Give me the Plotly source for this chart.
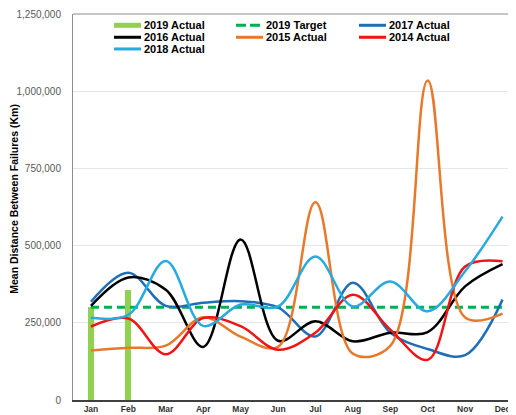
import plotly.graph_objects as go

months = ["Jan", "Feb", "Mar", "Apr", "May", "Jun", "Jul", "Aug", "Sep", "Oct", "Nov", "Dec"]

actual_2019 = [300000, 357000]
target_2019 = [300000] * 12
actual_2017 = [318000, 412000, 305000, 315000, 320000, 300000, 206000, 380000, 218000, 165000, 145000, 325000]
actual_2016 = [305000, 397000, 357000, 172000, 520000, 192000, 255000, 190000, 218000, 220000, 368000, 440000]
actual_2015 = [160000, 169000, 176000, 268000, 205000, 172000, 640000, 150000, 175000, 1035000, 267000, 280000]
actual_2014 = [238000, 264000, 148000, 265000, 239000, 163000, 218000, 341000, 228000, 130000, 432000, 449000]
actual_2018 = [266000, 276000, 450000, 240000, 309000, 303000, 465000, 303000, 384000, 287000, 417000, 594000]

yticks = [0, 250000, 500000, 750000, 1000000, 1250000]
ytick_text = ["0", "250,000", "500,000", "750,000", "1,000,000", "1,250,000"]

C19A = "#92D050"
C19T = "#00B050"
C17 = "#1F6FB8"
C16 = "#000000"
C15 = "#E8792A"
C14 = "#F01414"
C18 = "#27A9E1"

# page body has an 8px margin; figure coordinates are page coordinates minus 8
OFF = 8
W, H = 516 - OFF, 415 - OFF
L, R, T, B = 73 - OFF, 0, 14 - OFF, 14.5

fig = go.Figure()
fig.add_trace(go.Bar(x=months[:len(actual_2019)], y=actual_2019, name="2019 Actual",
                     marker=dict(color=C19A, line=dict(width=0)), width=0.16, showlegend=False))
fig.add_trace(go.Scatter(x=months, y=target_2019, name="2019 Target", mode="lines",
                         line=dict(color=C19T, width=3, dash="8px,5px"), showlegend=False))
line_series = [
    ("2017 Actual", actual_2017, C17),
    ("2016 Actual", actual_2016, C16),
    ("2015 Actual", actual_2015, C15),
    ("2014 Actual", actual_2014, C14),
    ("2018 Actual", actual_2018, C18),
]
for name, vals, col in line_series:
    fig.add_trace(go.Scatter(x=months, y=vals, name=name, mode="lines",
                             line=dict(color=col, width=2.5, shape="spline", smoothing=1.0),
                             showlegend=False))

pw = W - L - R
ph = H - T - B
def px2x(px):
    return (px - OFF - L) / pw
def py2y(py):
    return 1 - (py - OFF - T) / ph

legend_items = [
    ("2019 Actual", C19A, "bar", 114, 25.3),
    ("2019 Target", C19T, "dash", 236, 25.3),
    ("2017 Actual", C17, "line", 359, 25.3),
    ("2016 Actual", C16, "line", 114, 37.3),
    ("2015 Actual", C15, "line", 236, 37.3),
    ("2014 Actual", C14, "line", 359, 37.3),
    ("2018 Actual", C18, "line", 114, 49.0),
]
shapes = []
annotations = []
for name, col, kind, sx, sy in legend_items:
    if kind == "bar":
        shapes.append(dict(type="rect", xref="paper", yref="paper",
                           x0=px2x(sx), x1=px2x(sx + 27), y0=py2y(sy + 2.5), y1=py2y(sy - 2.5),
                           fillcolor=col, line=dict(width=0)))
    else:
        shapes.append(dict(type="line", xref="paper", yref="paper",
                           x0=px2x(sx), x1=px2x(sx + 27), y0=py2y(sy), y1=py2y(sy),
                           line=dict(color=col, width=3, dash="10px,4px" if kind == "dash" else "solid")))
    annotations.append(dict(text="<b>%s</b>" % name, xref="paper", yref="paper",
                            x=px2x(sx + 28), y=py2y(sy), xanchor="left", yanchor="middle",
                            showarrow=False, font=dict(family="Liberation Sans, Arial", size=11, color="#000000")))

shapes.append(dict(type="line", xref="paper", yref="paper", x0=0, x1=1, y0=1, y1=1,
                   line=dict(color="#8c8c8c", width=1)))

annotations.append(dict(text="<b>Mean Distance Between Failures (Km)</b>", xref="paper", yref="paper",
                        x=px2x(14), y=py2y(199), xanchor="center", yanchor="middle", textangle=-90,
                        showarrow=False, font=dict(family="Liberation Sans, Arial", size=10.5, color="#000000")))

fig.update_layout(
    width=W, height=H,
    margin=dict(l=L, r=R, t=T, b=B, pad=0, autoexpand=False),
    paper_bgcolor="white", plot_bgcolor="white",
    annotations=annotations, shapes=shapes,
    showlegend=False,
    bargap=0,
    font=dict(family="Liberation Sans, Arial"),
)
fig.update_xaxes(
    type="category", categoryorder="array", categoryarray=months,
    range=[-0.48, 11.36], showgrid=False, showline=True, linecolor="#404040", linewidth=1.5,
    ticks="", tickfont=dict(size=8.5, color="#333333", family="Liberation Sans, Arial"),
    ticktext=["<b>%s</b>" % m for m in months], tickvals=months,
)
fig.update_yaxes(
    range=[0, 1250000], tickvals=yticks, ticktext=ytick_text,
    showgrid=True, gridcolor="#e6e6e6", gridwidth=1, zeroline=False,
    showline=True, linecolor="#8c8c8c", linewidth=1,
    ticks="", ticklabelstandoff=9,
    tickfont=dict(size=10, color="#595959", family="Liberation Sans, Arial"),
)

fig.write_html("out.html")
